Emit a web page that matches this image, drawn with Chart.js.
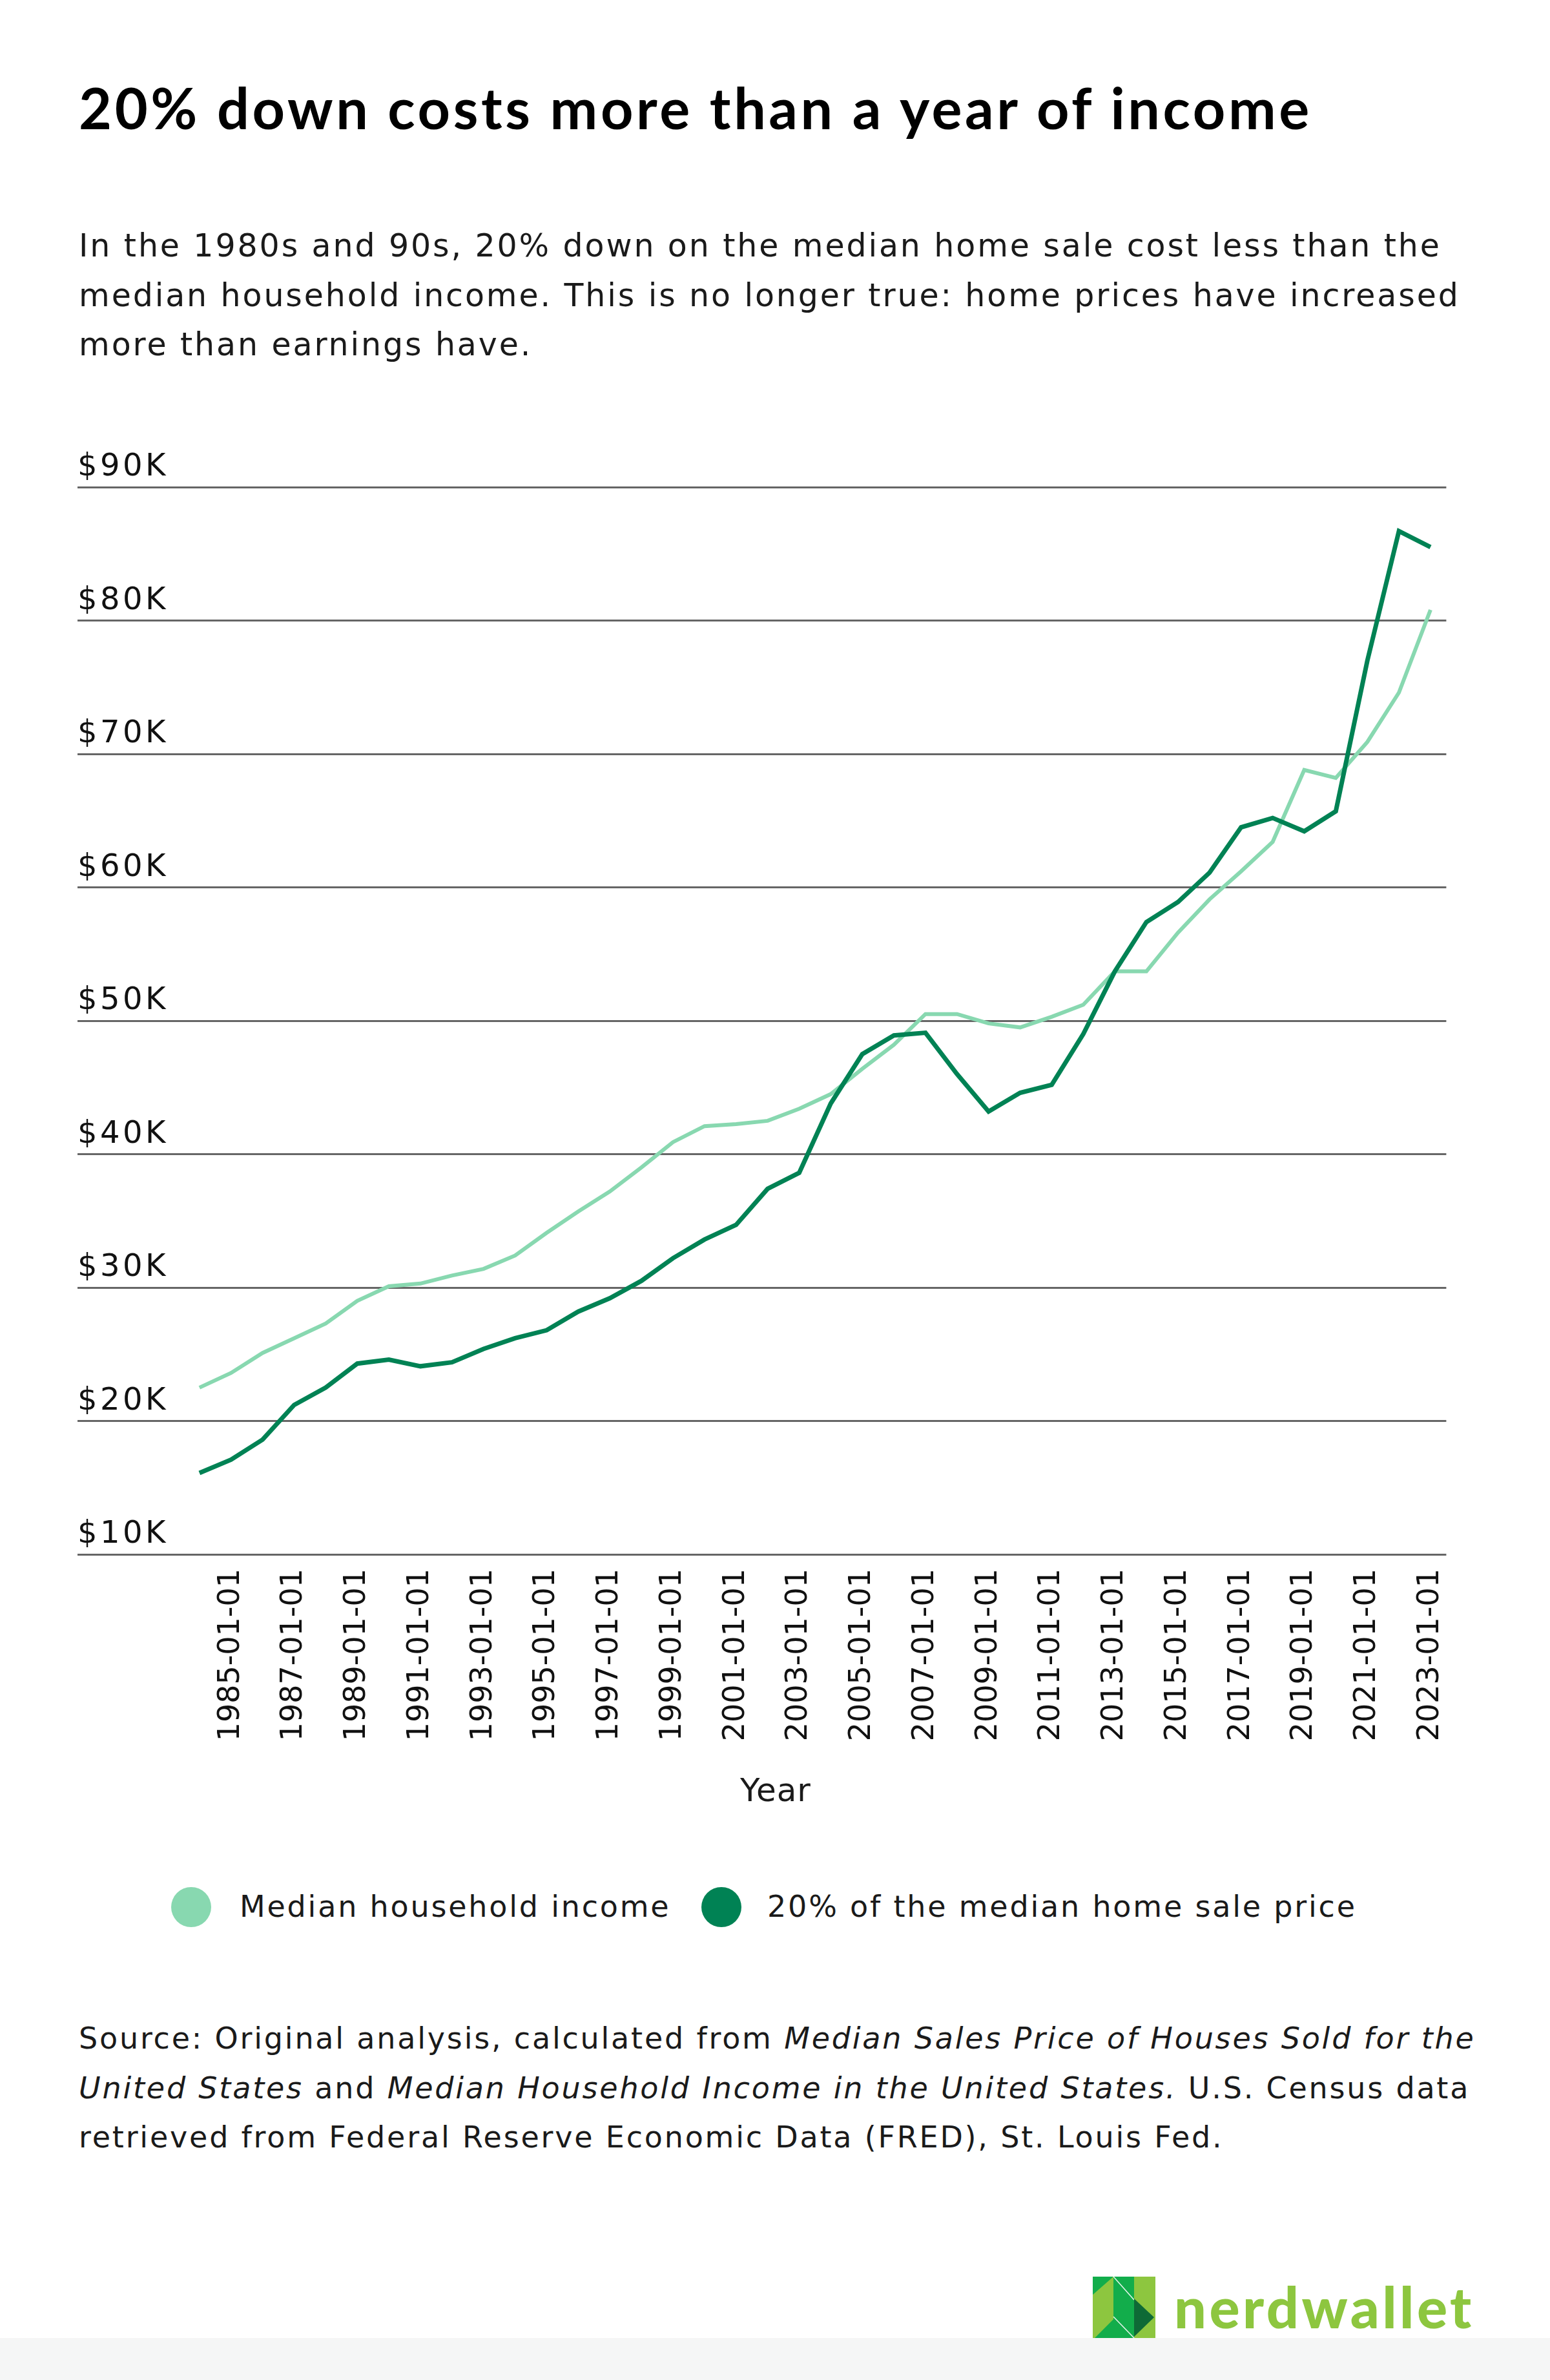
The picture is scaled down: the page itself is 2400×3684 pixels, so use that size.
<!DOCTYPE html>
<html>
<head>
<meta charset="utf-8">
<script src="https://cdn.jsdelivr.net/npm/chart.js@4.4.1/dist/chart.umd.min.js"></script>
<style>
  html, body { margin: 0; padding: 0; background: #fff; }
  body { width: 2400px; height: 3684px; position: relative; overflow: hidden; font-family: "DejaVu Sans", sans-serif; color: #1a1a1a; }
  .abs { position: absolute; white-space: nowrap; }
  #title { left: 122px; top: 122px; font: 700 88px/88px Lato, sans-serif; color: #000; letter-spacing: 4.6px; }
  #subtitle { left: 122px; top: 343px; font-size: 49px; line-height: 76.5px; letter-spacing: 2.9px; }
  #source { left: 122px; top: 3117px; font-size: 46px; line-height: 76.5px; letter-spacing: 2.8px; }
  #chartBox { left: 120px; top: 690px; }
  #yearTitle { left: 1201px; top: 2733px; transform: translateX(-50%); font-size: 50px; line-height: 76px; letter-spacing: 1px; }
  .dot { position: absolute; width: 62px; height: 62px; border-radius: 50%; }
  .legend-label { font-size: 46px; line-height: 76px; letter-spacing: 2.8px; }
  #footer { left: 0; top: 3619px; width: 2400px; height: 65px; background: #f5f6f6; }
  #logoText { left: 1818px; top: 3526px; font: 900 88px/88px Lato, sans-serif; color: #8dc63f; letter-spacing: 4.5px; }
</style>
</head>
<body>
<div id="title" class="abs">20% down costs more than a year of income</div>
<div id="subtitle" class="abs">In the 1980s and 90s, 20% down on the median home sale cost less than the<br>median household income. This is no longer true: home prices have increased<br>more than earnings have.</div>

<div id="chartBox" class="abs"><canvas id="chart" width="2130" height="2046"></canvas></div>
<div id="yearTitle" class="abs">Year</div>

<div class="dot" style="left:265px; top:2921px; background:#88d8b0;"></div>
<div class="abs legend-label" style="left:371px; top:2913px;">Median household income</div>
<div class="dot" style="left:1086px; top:2921px; background:#008254;"></div>
<div class="abs legend-label" style="left:1188px; top:2913px;">20% of the median home sale price</div>

<div id="source" class="abs">Source: Original analysis, calculated from <i>Median Sales Price of Houses Sold for the</i><br><i>United States</i> and <i>Median Household Income in the United States.</i> U.S. Census data<br>retrieved from Federal Reserve Economic Data (FRED), St. Louis Fed.</div>

<div id="footer" class="abs"></div>
<svg class="abs" style="left:1692px; top:3524px;" width="97" height="95" viewBox="0 0 97 95">
  <rect x="0" y="0" width="97" height="95" fill="#8dc63f"/>
  <polygon points="0,0 32,0 0,28" fill="#12ad4b"/>
  <polygon points="3,95 32,66 32,95" fill="#12ad4b"/>
  <rect x="32" y="0" width="32" height="95" fill="#12ad4b"/>
  <line x1="32" y1="0" x2="64" y2="36" stroke="#e8f7ee" stroke-width="1.5"/>
  <line x1="32" y1="62" x2="64" y2="95" stroke="#e8f7ee" stroke-width="1.5"/>
  <polygon points="64,34 95,63 64,93" fill="#0e6a36"/>
</svg>
<div id="logoText" class="abs">nerdwallet</div>

<script>
// years on the x axis (only odd years get a visible label)
const years = [
  '1984-01-01', '1985-01-01', '1986-01-01', '1987-01-01', '1988-01-01',
  '1989-01-01', '1990-01-01', '1991-01-01', '1992-01-01', '1993-01-01',
  '1994-01-01', '1995-01-01', '1996-01-01', '1997-01-01', '1998-01-01',
  '1999-01-01', '2000-01-01', '2001-01-01', '2002-01-01', '2003-01-01',
  '2004-01-01', '2005-01-01', '2006-01-01', '2007-01-01', '2008-01-01',
  '2009-01-01', '2010-01-01', '2011-01-01', '2012-01-01', '2013-01-01',
  '2014-01-01', '2015-01-01', '2016-01-01', '2017-01-01', '2018-01-01',
  '2019-01-01', '2020-01-01', '2021-01-01', '2022-01-01', '2023-01-01'
];

// values in thousands of dollars
const medianIncome = [
  22.5, 23.6, 25.1, 26.2, 27.3, 29.0, 30.1, 30.3, 30.9, 31.4,
  32.4, 34.1, 35.7, 37.2, 39.0, 40.9, 42.1, 42.25, 42.5, 43.4,
  44.5, 46.4, 48.2, 50.5, 50.5, 49.8, 49.5, 50.3, 51.2, 53.7,
  53.7, 56.6, 59.1, 61.2, 63.4, 68.8, 68.2, 70.9, 74.6, 80.8
];

const downPayment = [
  16.1, 17.1, 18.6, 21.2, 22.5, 24.3, 24.6, 24.1, 24.4, 25.4,
  26.2, 26.8, 28.2, 29.2, 30.5, 32.2, 33.6, 34.7, 37.4, 38.6,
  43.8, 47.5, 48.9, 49.1, 46.0, 43.2, 44.6, 45.2, 49.0, 53.7,
  57.4, 58.9, 61.1, 64.5, 65.2, 64.2, 65.7, 77.0, 86.7, 85.5
];

const yTicks = [10, 20, 30, 40, 50, 60, 70, 80, 90];

const LIGHT = '#88d8b0';
const DARK = '#008254';
const GRID = '#666666';

new Chart(document.getElementById('chart'), {
  type: 'line',
  data: {
    labels: years,
    datasets: [
      {
        label: 'Median household income',
        data: medianIncome,
        borderColor: LIGHT,
        borderWidth: 6,
        order: 1
      },
      {
        label: '20% of the median home sale price',
        data: downPayment,
        borderColor: DARK,
        borderWidth: 7,
        order: 0
      }
    ]
  },
  options: {
    responsive: false,
    devicePixelRatio: 1,
    animation: false,
    events: [],
    layout: { padding: { top: 64, right: 10.6, bottom: 0, left: 0 } },
    elements: {
      point: { radius: 0 },
      line: { tension: 0, borderJoinStyle: 'miter', borderCapStyle: 'butt', fill: false }
    },
    plugins: { legend: { display: false }, tooltip: { enabled: false } },
    scales: {
      x: {
        offset: true,
        border: { display: false },
        grid: { display: false, drawTicks: false },
        ticks: {
          autoSkip: false,
          minRotation: 90,
          maxRotation: 90,
          padding: 22,
          color: '#111',
          font: { family: 'DejaVu Sans', size: 46 },
          callback: function (val) {
            const label = this.getLabelForValue(val);
            return Number(label.slice(0, 4)) % 2 === 1 ? label : '';
          }
        },
        afterFit: (scale) => {
          scale.height = 330;
          scale.paddingLeft = 0;
          scale.paddingRight = 0;
        }
      },
      y: {
        min: yTicks[0],
        max: yTicks[yTicks.length - 1],
        border: { display: false },
        grid: {
          color: GRID,
          lineWidth: 3,
          drawTicks: true,
          tickLength: 164.4,
          tickColor: GRID,
          tickWidth: 3
        },
        afterBuildTicks: (scale) => {
          scale.ticks = yTicks.map(v => ({ value: v }));
        },
        ticks: {
          crossAlign: 'far',
          labelOffset: -30,
          padding: 0,
          color: '#111',
          font: { family: 'DejaVu Sans', size: 48 },
          callback: (v) => '$' + v + 'K'
        },
        afterFit: (scale) => {
          scale.width = 164.4;
          scale.paddingTop = 0;
          scale.paddingBottom = 0;
          // the money labels are set a little wider than the font gives
          if (!scale._spaced) {
            const draw = scale.drawLabels;
            scale.drawLabels = function (area) {
              this.ctx.save();
              this.ctx.letterSpacing = '4.5px';
              draw.call(this, area);
              this.ctx.restore();
            };
            scale._spaced = true;
          }
        }
      }
    }
  }
});
</script>
</body>
</html>
